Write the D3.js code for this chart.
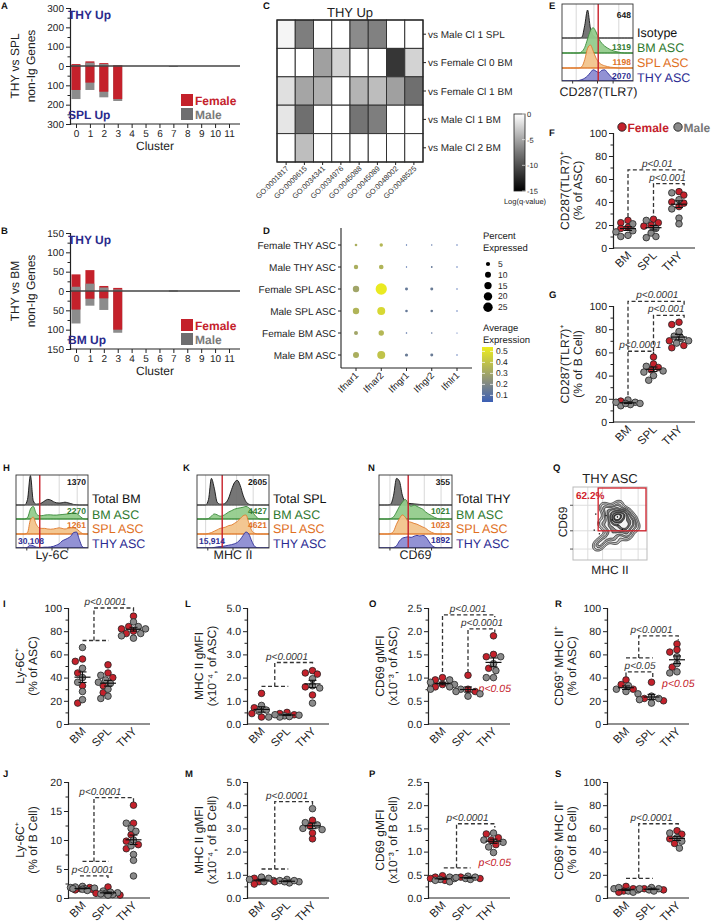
<!DOCTYPE html>
<html><head><meta charset="utf-8">
<script src="https://cdn.jsdelivr.net/npm/d3@7"></script>
<style>body{margin:0;background:#fff}svg{display:block}</style>
</head><body>
<svg id="c" width="715" height="924"></svg>
<script>
// ================= DATA =================
// Panels A / B: DEG counts per cluster (up = THY up, down = SPL/BM up)
const clusters=["0","1","2","3","4","5","6","7","8","9","10","11"];
const aFemaleUp=[10,24,15,5,0,0,0,0,0,0,0,0];
const aMaleUp=[4,17,10,3,0,0,0,0,0,0,0,0];
const aFemaleDown=[124,86,133,171,0,0,0,0,0,0,0,0];
const aMaleDown=[171,124,162,181,0,0,0,5,0,0,0,0];
const bFemaleUp=[43,54,13,8,0,0,0,0,0,0,0,0];
const bMaleUp=[11,19,9,4,0,0,0,2,0,0,0,0];
const bFemaleDown=[48,20,19,100,0,0,0,0,0,0,0,0];
const bMaleDown=[84,38,49,108,0,0,0,2,0,0,0,0];
const aTicks=[-300,-200,-100,0,100,200,300];
const bTicks=[-150,-100,-50,0,50,100,150];

// Panel C: GO heatmap log(q)
const goTerms=["GO:0001817","GO:0009615","GO:0034341","GO:0034976","GO:0045088","GO:0045089","GO:0048002","GO:0048525"];
const cRows=["vs Male Cl 1 SPL","vs Female Cl 0 BM","vs Female Cl 1 BM","vs Male Cl 1 BM","vs Male Cl 2 BM"];
const cRow1=[-0.6,-7.6,0,0,-6.8,-7.4,0,0];
const cRow2=[0,0,-5.6,-2.6,0,0,-11.8,-2.6];
const cRow3=[-1.8,-5.3,-4.7,0,-4.4,-3.9,-5.6,-8.5];
const cRow4=[-1.5,-8.5,0,0,-8.2,-7.6,0,0];
const cRow5=[0,-3.8,0,0,0,0,0,0];
const cTicks=[0,-5,-10,-15];

// Panel D: dot plot
const dGenes=["Ifnar1","Ifnar2","Ifngr1","Ifngr2","Ifnlr1"];
const dGroups=["Female THY ASC","Male THY ASC","Female SPL ASC","Male SPL ASC","Female BM ASC","Male BM ASC"];
const dPct=[[1.9,3.3,0.55,0.55,0.5],[5.5,6,0.55,0.9,0.55],[11.6,36,2.5,2.5,0.55],[11.6,18,1.9,1.9,0.55],[4.5,8.2,0.7,0.7,0.4],[10.2,18,2.9,2.5,0.55]];
const dAvg=[[0.33,0.36,0.08,0.1,0.06],[0.33,0.35,0.08,0.14,0.06],[0.3,0.53,0.14,0.15,0.06],[0.35,0.47,0.14,0.15,0.06],[0.3,0.36,0.1,0.12,0.06],[0.33,0.4,0.15,0.15,0.06]];
const dSizeTicks=[5,10,15,20,25];
const dColorTicks=[0.5,0.4,0.3,0.2,0.1];

// Histograms (channel grid + mode-normalised heights)
const histX=[0,4,8,12,16,20,24,28,32,36,40,44,48,52,56,60,64,68,72,76,80,84,88,92,96,100];
const eIso=[0,0,0,0,0,0,0,0.03,0.45,1.0,0.35,0.08,0.02,0,0,0,0,0,0,0,0,0,0,0,0,0];
const eBM=[0,0,0,0,0,0,0,0.05,0.2,0.5,0.8,0.9,0.75,0.5,0.35,0.25,0.18,0.12,0.08,0.05,0.03,0.01,0,0,0,0];
const eSPL=[0,0,0,0,0,0,0,0.05,0.3,0.7,0.82,0.6,0.35,0.2,0.12,0.08,0.05,0.03,0.02,0.01,0,0,0,0,0,0];
const eTHY=[0,0,0,0,0,0,0.02,0.05,0.1,0.18,0.3,0.4,0.35,0.3,0.38,0.4,0.3,0.18,0.08,0.03,0.01,0,0,0,0,0];
const hTot=[0,0,0,0,0.2,1.05,0.15,0.03,0.04,0.08,0.15,0.2,0.18,0.12,0.08,0.07,0.08,0.1,0.08,0.05,0.02,0.01,0,0,0,0];
const hBM=[0,0,0,0,0.05,0.35,0.45,0.2,0.12,0.12,0.14,0.15,0.15,0.14,0.14,0.15,0.16,0.17,0.18,0.2,0.22,0.2,0.12,0.03,0,0];
const hSPL=[0,0,0,0,0.05,0.5,0.6,0.35,0.22,0.2,0.2,0.18,0.17,0.18,0.2,0.22,0.2,0.18,0.2,0.22,0.22,0.18,0.1,0.02,0,0];
const hTHY=[0,0,0,0,0.03,0.1,0.08,0.03,0.02,0.02,0.03,0.03,0.04,0.06,0.1,0.15,0.25,0.3,0.35,0.42,0.55,0.57,0.3,0.05,0,0];
const kTot=[0,0,0,0,0.2,0.95,0.6,0.1,0.03,0.03,0.08,0.25,0.55,0.8,0.88,0.7,0.35,0.12,0.03,0,0,0,0,0,0,0];
const kBM=[0,0,0,0,0.02,0.1,0.18,0.15,0.1,0.12,0.18,0.25,0.3,0.35,0.38,0.4,0.42,0.45,0.4,0.3,0.15,0.04,0,0,0,0];
const kSPL=[0,0,0,0,0.02,0.05,0.1,0.15,0.2,0.22,0.25,0.3,0.32,0.38,0.45,0.55,0.65,0.68,0.4,0.12,0.03,0,0,0,0,0];
const kTHY=[0,0,0,0,0,0,0.02,0.04,0.05,0.06,0.08,0.1,0.12,0.15,0.2,0.3,0.45,0.57,0.5,0.25,0.06,0.01,0,0,0,0];
const nTot=[0,0,0,0,0.03,0.35,0.95,0.85,0.35,0.12,0.06,0.05,0.04,0.03,0.02,0.01,0,0,0,0,0,0,0,0,0,0];
const nBM=[0,0,0,0,0.02,0.08,0.25,0.45,0.6,0.7,0.55,0.45,0.5,0.45,0.4,0.35,0.25,0.18,0.12,0.06,0.02,0,0,0,0,0];
const nSPL=[0,0,0,0,0.02,0.1,0.35,0.55,0.68,0.6,0.45,0.42,0.38,0.35,0.3,0.25,0.2,0.12,0.06,0.02,0,0,0,0,0,0];
const nTHY=[0,0,0,0,0,0.02,0.08,0.25,0.35,0.38,0.4,0.38,0.42,0.45,0.43,0.45,0.4,0.25,0.1,0.03,0,0,0,0,0,0];

// Panel Q: THY ASC CD69 vs MHC II (density centres)
const qMHCII=[42,48,55,60,66,72,58,63,70,52,47,55,61,67,74,78,50,44,38,33,56,62,69,74,80,64,58,67,53,60,46,76,71,57,84,40];
const qCD69=[72,68,63,61,60,57,52,48,47,56,45,41,39,42,46,51,34,29,24,19,70,75,66,63,56,64,59,53,50,57,60,38,33,28,46,50];

// Scatter panels (BM, SPL, THY)
const groups=["BM","SPL","THY"];
const fFemale=[[24,22,17,18],[25,22,20,19],[49,46,40,39,36]];
const fMale=[[21,14,11,10,15],[24,13,10,9,17],[48,42,34,26,21]];
const gFemale=[[18],[56,50,47,45],[84,86,70,66,64]];
const gMale=[[19,17,16,15,14,16,17],[48,44,40,36,43],[78,74,70,68,72]];
const iFemale=[[54,56,18,33,44],[51,44,40,27,33],[93,82,80,78,84]];
const iMale=[[66,48,36,28,21,40],[42,36,24,30,38,22,35],[88,84,78,74,76,82]];
const jFemale=[[1.8,1.5,1.6,1.4],[1.9,0.8,0.5],[16,12.9,10.9,9.8,8.5,9.2]];
const jMale=[[2.0,1.8,1.6,1.7,1.5,1.9,1.3,1.6],[1.2,0.9,0.6,0.8,1.0,0.7,0.5],[12.9,12,11.5,9,7.5,6.5,3.8,10]];
const lFemale=[[1.32,0.7,0.45,0.3],[0.5,0.45,0.4],[2.3,2.2,2.15,1.25,1.6]];
const lMale=[[0.8,0.55,0.3,0.6],[0.35,0.3,0.38,0.4,0.32],[1.95,1.55,0.9,1.65]];
const mFemale=[[0.85,0.7,0.6],[0.7],[3.35,2.55,2.8,3.1]];
const mMale=[[0.9,0.8,0.75,0.7,0.85],[0.8,0.75,0.7,0.65,0.7,0.75],[3.85,3.25,3.15,3.0,2.95]];
const oFemale=[[1.0,0.95,0.8,0.85],[1.05,0.75,0.7],[1.9,1.5,1.45,1.2]];
const oMale=[[0.95,0.85,0.75,0.9,0.8],[0.75,0.65,0.6,0.7],[1.3,1.0,1.0,1.15,1.45]];
const pFemale=[[0.48,0.45,0.38,0.42],[0.45,0.42],[1.38,1.3,1.25,1.15]];
const pMale=[[0.45,0.4,0.35,0.42,0.38],[0.47,0.44,0.42,0.4,0.45],[1.4,1.2,1.1,0.98,1.25]];
const rFemale=[[38,34,30],[36,22,20],[69,64,62,49]];
const rMale=[[26,30,28,33],[18,24,22,21],[58,52,45,44]];
const sFemale=[[10,8,6,5],[8,7],[58,55,51,47]];
const sMale=[[8,6,5,7,9],[9,8,7,6,8],[56,52,49,43]];
const pctTicks=[0,20,40,60,80,100];
const ly6cBTicks=[0,5,10,15,20];
const mhcTicks=[0,1,2,3,4,5];
const cd69Ticks=[0,0.5,1,1.5,2,2.5];

// ================= DRAWING =================
const FONT="'Liberation Sans', Arial, Helvetica, sans-serif";
const RED="#c4212b", GRAY="#8a8a8a", NAVY="#2a2a8c", INK="#222";
const svg=d3.select("#c").attr("font-family",FONT).attr("text-rendering","geometricPrecision");
const defs=svg.append("defs");

function txt(x,y,s,o={}){
  const t=svg.append("text").attr("x",x).attr("y",y).text(s)
    .attr("font-size",o.size||11).attr("fill",o.fill||INK)
    .attr("text-anchor",o.anchor||"start");
  if(o.weight)t.attr("font-weight",o.weight);
  if(o.style)t.attr("font-style",o.style);
  if(o.rotate!==undefined)t.attr("transform",`rotate(${o.rotate},${x},${y})`);
  return t;
}
function letter(s,x,y){txt(x,y,s,{size:9.5,weight:"bold",fill:"#111"});}
function styleAxis(g,fs){
  g.select(".domain").attr("stroke",INK).attr("stroke-width",1.1);
  g.selectAll(".tick line").attr("stroke",INK).attr("stroke-width",1);
  g.selectAll(".tick text").attr("font-family",FONT).attr("font-size",fs||10).attr("fill",INK);
}

// ---------- Panels A, B ----------
function barPanel(o){
  const x=d3.scalePoint().domain(clusters).range([76,229]);
  const y=d3.scaleLinear().domain([o.ticks[0],o.ticks[o.ticks.length-1]]).range([o.yB,o.yT]);
  const bw=9;
  clusters.forEach((c,i)=>{
    [[o.fu[i],o.mu[i],1],[o.fd[i],o.md[i],-1]].forEach(([f,m,s])=>{
      const bars=[{v:f,c:RED},{v:m,c:"#8c8c8c"}].sort((a,b)=>b.v-a.v);
      bars.forEach(b=>{ if(b.v<=0)return;
        const y1=y(0), y2=y(s*b.v);
        svg.append("rect").attr("x",x(c)-bw/2).attr("width",bw)
          .attr("y",Math.min(y1,y2)).attr("height",Math.abs(y2-y1)).attr("fill",b.c);
      });
    });
  });
  svg.append("line").attr("x1",70).attr("x2",240).attr("y1",y(0)).attr("y2",y(0)).attr("stroke","#444").attr("stroke-width",1.4);
  const minor=[];for(let k=0;k<o.ticks.length-1;k++)minor.push((o.ticks[k]+o.ticks[k+1])/2);
  const gm=svg.append("g").attr("transform","translate(70,0)").call(d3.axisLeft(y).tickValues(minor).tickSize(2.5).tickFormat(""));
  styleAxis(gm);
  const ga=svg.append("g").attr("transform","translate(70,0)").call(d3.axisLeft(y).tickValues(o.ticks).tickSize(4).tickFormat(d=>Math.abs(d)).tickPadding(2));
  styleAxis(ga,10);
  const gx=svg.append("g").attr("transform",`translate(0,${o.yB})`).call(d3.axisBottom(x).tickSize(4).tickPadding(2).tickSizeOuter(0));
  styleAxis(gx,10);
  gx.select(".domain").attr("d",`M70,0H240`);
  txt(155,o.yB+26,"Cluster",{size:12,anchor:"middle"});
  const cy=(o.yT+o.yB)/2;
  txt(19,cy,o.t1,{size:12,anchor:"middle",rotate:-90});
  txt(35,cy,"non-Ig Genes",{size:12,anchor:"middle",rotate:-90});
  txt(68,o.yT+11,"THY Up",{size:12,weight:"bold",fill:NAVY});
  txt(68,o.yB-5,o.t2,{size:12,weight:"bold",fill:NAVY});
  svg.append("rect").attr("x",181).attr("y",o.yB-30).attr("width",12).attr("height",12).attr("fill",RED);
  svg.append("rect").attr("x",181).attr("y",o.yB-16).attr("width",12).attr("height",12).attr("fill","#6e6e70");
  txt(195,o.yB-19,"Female",{size:12,weight:"bold",fill:RED});
  txt(195,o.yB-5,"Male",{size:12,weight:"bold",fill:"#7a7a7a"});
}
letter("A",1,9);
barPanel({yT:8,yB:124,ticks:aTicks,fu:aFemaleUp,mu:aMaleUp,fd:aFemaleDown,md:aMaleDown,t1:"THY vs SPL",t2:"SPL Up"});
letter("B",1,234);
barPanel({yT:233,yB:349,ticks:bTicks,fu:bFemaleUp,mu:bMaleUp,fd:bFemaleDown,md:bMaleDown,t1:"THY vs BM",t2:"BM Up"});

// ---------- Panel C ----------
letter("C",263,9);
(function(){
  const rows=[cRow1,cRow2,cRow3,cRow4,cRow5];
  const x=d3.scaleBand().domain(goTerms).range([277,423]);
  const y=d3.scaleBand().domain(cRows).range([20,162]);
  const col=d3.scaleLinear().domain([-15,0]).range(["#000","#fff"]);
  txt(350,17,"THY Up",{size:13,anchor:"middle"});
  rows.forEach((r,ri)=>r.forEach((v,ci)=>{
    svg.append("rect").attr("x",x(goTerms[ci])).attr("y",y(cRows[ri])).attr("width",x.bandwidth()).attr("height",y.bandwidth())
      .attr("fill",col(v)).attr("stroke","#333").attr("stroke-width",1);
  }));
  svg.append("rect").attr("x",277).attr("y",20).attr("width",146).attr("height",142).attr("fill","none").attr("stroke","#222").attr("stroke-width",1.2);
  cRows.forEach(r=>{
    const cy=y(r)+y.bandwidth()/2;
    svg.append("line").attr("x1",423).attr("x2",426).attr("y1",cy).attr("y2",cy).attr("stroke",INK);
    txt(428,cy+3.5,r,{size:10});
  });
  goTerms.forEach(g=>{
    const cx=x(g)+x.bandwidth()/2;
    svg.append("line").attr("x1",cx).attr("x2",cx).attr("y1",162).attr("y2",165).attr("stroke",INK);
    txt(cx+3,169,g,{size:7.5,anchor:"end",rotate:-45,fill:"#333"});
  });
  const grad=defs.append("linearGradient").attr("id","gq").attr("x1",0).attr("x2",0).attr("y1",0).attr("y2",1);
  grad.append("stop").attr("offset","0%").attr("stop-color","#fff");
  grad.append("stop").attr("offset","50%").attr("stop-color","#777");
  grad.append("stop").attr("offset","100%").attr("stop-color","#000");
  const cb=d3.scaleLinear().domain([0,-15]).range([114,191]);
  svg.append("rect").attr("x",514).attr("y",114).attr("width",11).attr("height",77).attr("fill","url(#gq)").attr("stroke","#222").attr("stroke-width",0.8);
  cTicks.forEach(t=>{
    svg.append("line").attr("x1",522).attr("x2",525).attr("y1",cb(t)).attr("y2",cb(t)).attr("stroke","#fff").attr("stroke-width",0.6);
    txt(527,cb(t)+3,String(t),{size:7.5});
  });
  txt(525,204,"Log(q-value)",{size:7.5,anchor:"middle"});
})();

// ---------- Panel D ----------
letter("D",263,234);
(function(){
  const x=d3.scalePoint().domain(dGenes).range([356,457]);
  const y=d3.scalePoint().domain(dGroups).range([245,355]);
  const r=d3.scaleSqrt().domain([0,25]).range([0,4.7]);
  const col=d3.scaleLinear().domain([0.04,0.22,0.54]).range(["#3b5fb5","#878d80","#eded1e"]);
  svg.append("line").attr("x1",341).attr("x2",341).attr("y1",228).attr("y2",368).attr("stroke",INK).attr("stroke-width",1.1);
  svg.append("line").attr("x1",341).attr("x2",472).attr("y1",368).attr("y2",368).attr("stroke",INK).attr("stroke-width",1.1);
  dGroups.forEach(g=>{
    svg.append("line").attr("x1",338).attr("x2",341).attr("y1",y(g)).attr("y2",y(g)).attr("stroke",INK);
    txt(336,y(g)+3.5,g,{size:10,anchor:"end"});
  });
  dGenes.forEach(g=>{
    svg.append("line").attr("x1",x(g)).attr("x2",x(g)).attr("y1",368).attr("y2",371).attr("stroke",INK);
    txt(x(g)+3,376,g,{size:9.5,anchor:"end",rotate:-45});
  });
  dGroups.forEach((g,gi)=>dGenes.forEach((ge,ci)=>{
    svg.append("circle").attr("cx",x(ge)).attr("cy",y(g)).attr("r",r(dPct[gi][ci])).attr("fill",col(dAvg[gi][ci]));
  }));
  txt(483,239,"Percent",{size:9.5});
  txt(483,251,"Expressed",{size:9.5});
  dSizeTicks.forEach((s,i)=>{
    const cy=264+i*10.8;
    svg.append("circle").attr("cx",488).attr("cy",cy).attr("r",r(s)).attr("fill","#000");
    txt(498,cy+3,String(s),{size:8.5});
  });
  txt(483,331,"Average",{size:9.5});
  txt(483,343,"Expression",{size:9.5});
  const grad=defs.append("linearGradient").attr("id","gd").attr("x1",0).attr("x2",0).attr("y1",1).attr("y2",0);
  [0,0.36,1].forEach((o,i)=>grad.append("stop").attr("offset",o).attr("stop-color",["#3b5fb5","#878d80","#eded1e"][i]));
  const cb=d3.scaleLinear().domain([0.04,0.54]).range([402,347]);
  svg.append("rect").attr("x",482).attr("y",347).attr("width",11).attr("height",55).attr("fill","url(#gd)");
  dColorTicks.forEach(t=>{
    svg.append("line").attr("x1",482).attr("x2",485).attr("y1",cb(t)).attr("y2",cb(t)).attr("stroke","#fff").attr("stroke-width",0.7);
    svg.append("line").attr("x1",490).attr("x2",493).attr("y1",cb(t)).attr("y2",cb(t)).attr("stroke","#fff").attr("stroke-width",0.7);
    txt(496,cb(t)+3,t.toFixed(1),{size:8.5});
  });
})();

// ---------- Histograms ----------
const HC=[{fill:"#6f6f6f",stroke:"#111",text:"#111"},{fill:"#93cc8c",stroke:"#3a8a3a",text:"#2f7a2f"},{fill:"#f2c48c",stroke:"#e07a2c",text:"#e0701e"},{fill:"#8c8cd2",stroke:"#2e2e98",text:"#2b2b92"}];
let clipN=0;
function histPanel(o){
  const x=d3.scaleLinear().domain([0,100]).range([o.x0,o.x1]);
  const id="hc"+(clipN++);
  const bottom=o.lanes[3];
  defs.append("clipPath").attr("id",id).append("rect").attr("x",o.x0).attr("y",o.top).attr("width",o.x1-o.x0).attr("height",bottom-o.top);
  const g=svg.append("g").attr("clip-path",`url(#${id})`);
  o.grid.forEach(c=>g.append("line").attr("x1",x(c)).attr("x2",x(c)).attr("y1",o.top).attr("y2",bottom).attr("stroke","#d8d8d8").attr("stroke-width",1));
  o.curves.forEach((vals,i)=>{
    const base=o.lanes[i];
    const area=d3.area().x((d,j)=>x(histX[j])).y0(base).y1(d=>base-d*28).curve(d3.curveMonotoneX);
    g.append("path").datum(vals).attr("d",area).attr("fill",HC[i].fill).attr("fill-opacity",0.95).attr("stroke",HC[i].stroke).attr("stroke-width",0.9);
    g.append("line").attr("x1",o.x0).attr("x2",o.x1).attr("y1",base).attr("y2",base).attr("stroke",i===0?"#888":HC[i].stroke).attr("stroke-width",0.9);
  });
  svg.append("line").attr("x1",x(o.red)).attr("x2",x(o.red)).attr("y1",o.top).attr("y2",bottom).attr("stroke","#c8202a").attr("stroke-width",1.4);
  svg.append("rect").attr("x",o.x0).attr("y",o.top).attr("width",o.x1-o.x0).attr("height",bottom-o.top).attr("fill","none").attr("stroke","#333").attr("stroke-width",0.9);
  [0.15,0.5,0.72].forEach(c=>svg.append("line").attr("x1",o.x0+(o.x1-o.x0)*c).attr("x2",o.x0+(o.x1-o.x0)*c).attr("y1",bottom).attr("y2",bottom+2.5).attr("stroke","#333"));
  o.nums.forEach((n,i)=>{
    if(!n)return;
    txt(n.left?o.x0+2:o.x1-2,n.y,n.t,{size:8.5,weight:"bold",fill:HC[i].text,anchor:n.left?"start":"end"});
  });
  o.labels.forEach((l,i)=>txt(o.x1+4,o.labY[i],l,{size:12.5,fill:HC[i].text}));
  txt((o.x0+o.x1)/2+o.xlOff,o.xlY,o.xlab,{size:12.5,anchor:"middle"});
}
letter("E",549,9);
histPanel({x0:562,x1:633,top:4,lanes:[38,53,68,81],grid:[20,45,80],red:51,curves:[eIso,eBM,eSPL,eTHY],
  nums:[{t:"648",y:18},{t:"1319",y:50},{t:"1198",y:65},{t:"2070",y:79}],
  labels:["Isotype","BM ASC","SPL ASC","THY ASC"],labY:[37,52,67,82],xlab:"CD287(TLR7)",xlY:96,xlOff:1});
letter("H",3,471);
histPanel({x0:16,x1:88,top:475,lanes:[505,519,534,548],grid:[10,60,85],red:33,curves:[hTot,hBM,hSPL,hTHY],
  nums:[{t:"1370",y:485},{t:"2270",y:514},{t:"1261",y:528},{t:"30,108",y:544,left:true}],
  labels:["Total BM","BM ASC","SPL ASC","THY ASC"],labY:[503,519,533,548],xlab:"Ly-6C",xlY:559,xlOff:0});
letter("K",183,471);
histPanel({x0:197,x1:269,top:475,lanes:[505,519,534,548],grid:[12,55,78],red:35,curves:[kTot,kBM,kSPL,kTHY],
  nums:[{t:"2605",y:485},{t:"4427",y:514},{t:"4621",y:528},{t:"15,914",y:544,left:true}],
  labels:["Total SPL","BM ASC","SPL ASC","THY ASC"],labY:[503,519,533,548],xlab:"MHC II",xlY:559,xlOff:0});
letter("N",368,471);
histPanel({x0:379,x1:452,top:475,lanes:[505,519,534,548],grid:[15,62,85],red:40,curves:[nTot,nBM,nSPL,nTHY],
  nums:[{t:"355",y:485},{t:"1021",y:514},{t:"1023",y:528},{t:"1892",y:543}],
  labels:["Total THY","BM ASC","SPL ASC","THY ASC"],labY:[503,519,533,548],xlab:"CD69",xlY:559,xlOff:0});

// ---------- Panel Q ----------
letter("Q",553,471);
(function(){
  const x0=573,x1=647,y0=487,y1=560;
  const qx=d3.scaleLinear().domain([0,100]).range([x0,x1]);
  const qy=d3.scaleLinear().domain([0,100]).range([y1,y0]);
  txt(610,483,"THY ASC",{size:13,anchor:"middle"});
  [20,40,65,88].forEach(c=>svg.append("line").attr("x1",qx(c)).attr("x2",qx(c)).attr("y1",y0).attr("y2",y1).attr("stroke","#ddd"));
  [15,40,75].forEach(c=>svg.append("line").attr("x1",x0).attr("x2",x1).attr("y1",qy(c)).attr("y2",qy(c)).attr("stroke","#ddd"));
  const pts=qMHCII.map((m,i)=>[qx(m),qy(qCD69[i])]);
  const cont=d3.contourDensity().x(d=>d[0]).y(d=>d[1]).size([715,924]).cellSize(1).bandwidth(3.2).thresholds(10)(pts);
  const shade=d3.scaleLinear().domain([0,cont.length-1]).range(["#bdbdbd","#1a1a1a"]);
  svg.append("g").selectAll("path").data(cont).join("path").attr("d",d3.geoPath())
    .attr("fill",(d,i)=>i%2?"#f4f4f4":shade(i)).attr("stroke","#111").attr("stroke-width",0.7);
  pts.filter((p,i)=>i%5===0).forEach(p=>svg.append("rect").attr("x",p[0]-9).attr("y",p[1]+6).attr("width",1.3).attr("height",1.3).attr("fill","#111"));
  svg.append("rect").attr("x",x0).attr("y",y0).attr("width",x1-x0).attr("height",y1-y0).attr("fill","none").attr("stroke","#bbb");
  svg.append("rect").attr("x",qx(34)).attr("y",y0+1).attr("width",x1-qx(34)-1).attr("height",qy(40)-y0-1).attr("fill","none").attr("stroke","#d0202a").attr("stroke-width",1.3);
  txt(576,499,"62.2%",{size:10,weight:"bold",fill:"#d0202a"});
  [qy(15),qy(40),qy(75)].forEach(v=>svg.append("line").attr("x1",x0-3).attr("x2",x0).attr("y1",v).attr("y2",v).attr("stroke","#555"));
  txt(567,522,"CD69",{size:12,anchor:"middle",rotate:-90});
  txt(610,574,"MHC II",{size:12,anchor:"middle"});
})();

// ---------- Scatter panels ----------
function swarm(vals,ypx,r){
  const placed=[];
  const order=vals.map((d,i)=>({...d,i})).sort((a,b)=>b.v-a.v);
  const cands=[0];for(let k=1;k<6;k++){cands.push(-k*2.4,k*2.4);}
  order.forEach(p=>{
    const py=ypx(p.v);
    let best=null;
    for(const dx of cands){if(placed.every(q=>Math.hypot(q.dx-dx,q.py-py)>=2*r*0.82)){best=dx;break;}}
    if(best===null){let bd=-1;for(const dx of cands){const m=d3.min(placed,q=>Math.hypot(q.dx-dx,q.py-py));if(m>bd){bd=m;best=dx;}}}
    placed.push({...p,dx:best,py});
  });
  return placed.sort((a,b)=>a.i-b.i);
}
function dotPanel(o){
  const off=o.off||14.5;
  const xi=i=>o.ax+off+i*25.5;
  const y=d3.scaleLinear().domain([o.ticks[0],o.ticks[o.ticks.length-1]]).range([o.yB,o.yT]);
  const minor=[];for(let k=0;k<o.ticks.length-1;k++)minor.push((o.ticks[k]+o.ticks[k+1])/2);
  styleAxis(svg.append("g").attr("transform",`translate(${o.ax},0)`).call(d3.axisLeft(y).tickValues(minor).tickSize(2.5).tickFormat("")));
  styleAxis(svg.append("g").attr("transform",`translate(${o.ax},0)`).call(d3.axisLeft(y).tickValues(o.ticks).tickSize(4).tickPadding(2).tickFormat(o.fmt)),10.5);
  svg.append("line").attr("x1",o.ax).attr("x2",o.ax+82).attr("y1",o.yB).attr("y2",o.yB).attr("stroke",INK).attr("stroke-width",1.1);
  groups.forEach((g,i)=>txt(xi(i)+4,o.yB+8,g,{size:11.5,anchor:"end",rotate:-45}));
  const cy=(o.yT+o.yB)/2;
  txt(o.ax-44,cy,o.t1,{size:12,anchor:"middle",rotate:-90});
  txt(o.ax-31,cy,o.t2,{size:12,anchor:"middle",rotate:-90});
  const ln=d3.line().x(d=>xi(d[0])).y(d=>y(d[1]));
  o.br.forEach(b=>svg.append("path").attr("d",ln(b)).attr("fill","none").attr("stroke","#333").attr("stroke-width",1.3).attr("stroke-dasharray","4,2.5"));
  o.lab.forEach(l=>txt(xi(l[0]),y(l[1])-3,l[2],{size:10,style:"italic",anchor:"middle",fill:"#333"}));
  (o.red||[]).forEach(l=>txt(xi(l[0]),y(l[1]),"p<0.05",{size:10.5,style:"italic",anchor:"middle",fill:RED}));
  const r=3.3;
  groups.forEach((g,i)=>{
    const vals=o.fem[i].map(v=>({v,s:"f"})).concat(o.mal[i].map(v=>({v,s:"m"})));
    const pl=swarm(vals,y,r);
    pl.forEach(p=>svg.append("circle").attr("cx",xi(i)+p.dx).attr("cy",p.py).attr("r",r)
      .attr("fill",p.s==="f"?RED:GRAY).attr("stroke","#222").attr("stroke-width",0.8));
    const all=vals.map(d=>d.v), m=d3.mean(all), se=d3.deviation(all)/Math.sqrt(all.length);
    const cx=xi(i);
    svg.append("line").attr("x1",cx-8).attr("x2",cx+8).attr("y1",y(m)).attr("y2",y(m)).attr("stroke","#111").attr("stroke-width",1.2);
    svg.append("line").attr("x1",cx).attr("x2",cx).attr("y1",y(m-se)).attr("y2",y(m+se)).attr("stroke","#111").attr("stroke-width",1.1);
    [m-se,m+se].forEach(v=>svg.append("line").attr("x1",cx-4).attr("x2",cx+4).attr("y1",y(v)).attr("y2",y(v)).attr("stroke","#111").attr("stroke-width",1.1));
  });
}
const f0=d3.format("d"), f1=d3.format(".1f");
svg.append("circle").attr("cx",622).attr("cy",127).attr("r",4.2).attr("fill",RED).attr("stroke","#222").attr("stroke-width",0.9);
txt(627.5,131.5,"Female",{size:12,weight:"bold",fill:RED});
svg.append("circle").attr("cx",678).attr("cy",127).attr("r",4.2).attr("fill",GRAY).attr("stroke","#222").attr("stroke-width",0.9);
txt(683.5,131.5,"Male",{size:12,weight:"bold",fill:"#777"});
letter("F",549,136);
dotPanel({ax:613,off:15,yT:133,yB:248,ticks:pctTicks,fmt:f0,fem:fFemale,mal:fMale,t1:"CD287(TLR7)⁺",t2:"(% of ASC)",
  br:[[[0,27],[0,68],[2.2,68],[2.2,65]],[[1,30],[1,56],[2.2,56],[2.2,53]]],
  lab:[[1.15,68,"p<0.01"],[1.55,56,"p<0.001"]]});
letter("G",549,298);
dotPanel({ax:613,off:15,yT:306,yB:422,ticks:pctTicks,fmt:f0,fem:gFemale,mal:gMale,t1:"CD287(TLR7)⁺",t2:"(% of B Cell)",
  br:[[[0,23],[0,104],[2.2,104],[2.2,101]],[[1,61],[1,92],[2.2,92],[2.2,89]],[[0,61],[1,61],[1,58]]],
  lab:[[1.15,104,"p<0.0001"],[1.5,92,"p<0.001"],[0.48,61,"p<0.0001"]]});
letter("I",3,607);
dotPanel({ax:68,yT:608,yB:724,ticks:pctTicks,fmt:f0,fem:iFemale,mal:iMale,t1:"Ly-6C⁺",t2:"(% of ASC)",
  br:[[[0,72],[1.03,72]],[[0.45,72],[0.45,100],[2,100],[2,95]]],lab:[[0.9,100,"p<0.0001"]]});
letter("L",185,607);
dotPanel({ax:247,yT:608,yB:724,ticks:mhcTicks,fmt:f1,fem:lFemale,mal:lMale,t1:"MHC II gMFI",t2:"(x10⁻⁴, of ASC)",
  br:[[[0,1.62],[1.05,1.62]],[[0.52,1.62],[0.52,2.65],[2,2.65],[2,2.55]]],lab:[[1.0,2.65,"p<0.0001"]]});
letter("O",369,607);
dotPanel({ax:428,yT:608,yB:724,ticks:cd69Ticks,fmt:f1,fem:oFemale,mal:oMale,t1:"CD69 gMFI",t2:"(x10⁻³, of ASC)",
  br:[[[0,1.12],[0,2.35],[2.05,2.35],[2.05,2.3]],[[1,1.1],[1,2.05],[2.05,2.05],[2.05,1.98]]],
  lab:[[1.0,2.35,"p<0.001"],[1.55,2.05,"p<0.0001"]],red:[[2.05,0.69]]});
letter("R",555,607);
dotPanel({ax:607,off:19,yT:608,yB:724,ticks:pctTicks,fmt:f0,fem:rFemale,mal:rMale,t1:"CD69⁺ MHC II⁺",t2:"(% of ASC)",
  br:[[[0,57],[1.05,57]],[[0.5,57],[0.5,76],[2.05,76],[2.05,72]],[[0,41],[0,45],[1.05,45],[1.05,40]]],
  lab:[[1.0,76,"p<0.0001"],[0.55,45,"p<0.05"]],red:[[2.05,32]]});
letter("J",3,777);
dotPanel({ax:68,yT:782,yB:898,ticks:ly6cBTicks,fmt:f0,fem:jFemale,mal:jMale,t1:"Ly-6C⁺",t2:"(% of B Cell)",
  br:[[[0,6.3],[1.03,6.3]],[[0.45,6.3],[0.45,17.3],[2,17.3],[2,16.3]],[[-0.1,3.8],[1,3.8],[1,3.0]]],
  lab:[[0.7,17.3,"p<0.0001"],[0.4,3.8,"p<0.0001"]]});
letter("M",185,777);
dotPanel({ax:247,yT:782,yB:898,ticks:mhcTicks,fmt:f1,fem:mFemale,mal:mMale,t1:"MHC II gMFI",t2:"(x10⁻⁴, of B Cell)",
  br:[[[0,1.25],[1.05,1.25]],[[0.52,1.25],[0.52,4.15],[2,4.15],[2,4.0]]],lab:[[1.0,4.15,"p<0.0001"]]});
letter("P",369,777);
dotPanel({ax:428,yT:782,yB:898,ticks:cd69Ticks,fmt:f1,fem:pFemale,mal:pMale,t1:"CD69 gMFI",t2:"(x10⁻³, of B Cell)",
  br:[[[0.05,0.65],[1.1,0.65]],[[0.55,0.65],[0.55,1.6],[2.05,1.6],[2.05,1.52]]],lab:[[0.98,1.6,"p<0.0001"]],red:[[2.05,0.69]]});
letter("S",555,777);
dotPanel({ax:607,off:19,yT:782,yB:898,ticks:pctTicks,fmt:f0,fem:sFemale,mal:sMale,t1:"CD69⁺ MHC II⁺",t2:"(% of B Cell)",
  br:[[[0,17],[1.05,17]],[[0.5,17],[0.5,64],[2.05,64],[2.05,61]]],lab:[[1.0,64,"p<0.0001"]]});
</script>
</body></html>
